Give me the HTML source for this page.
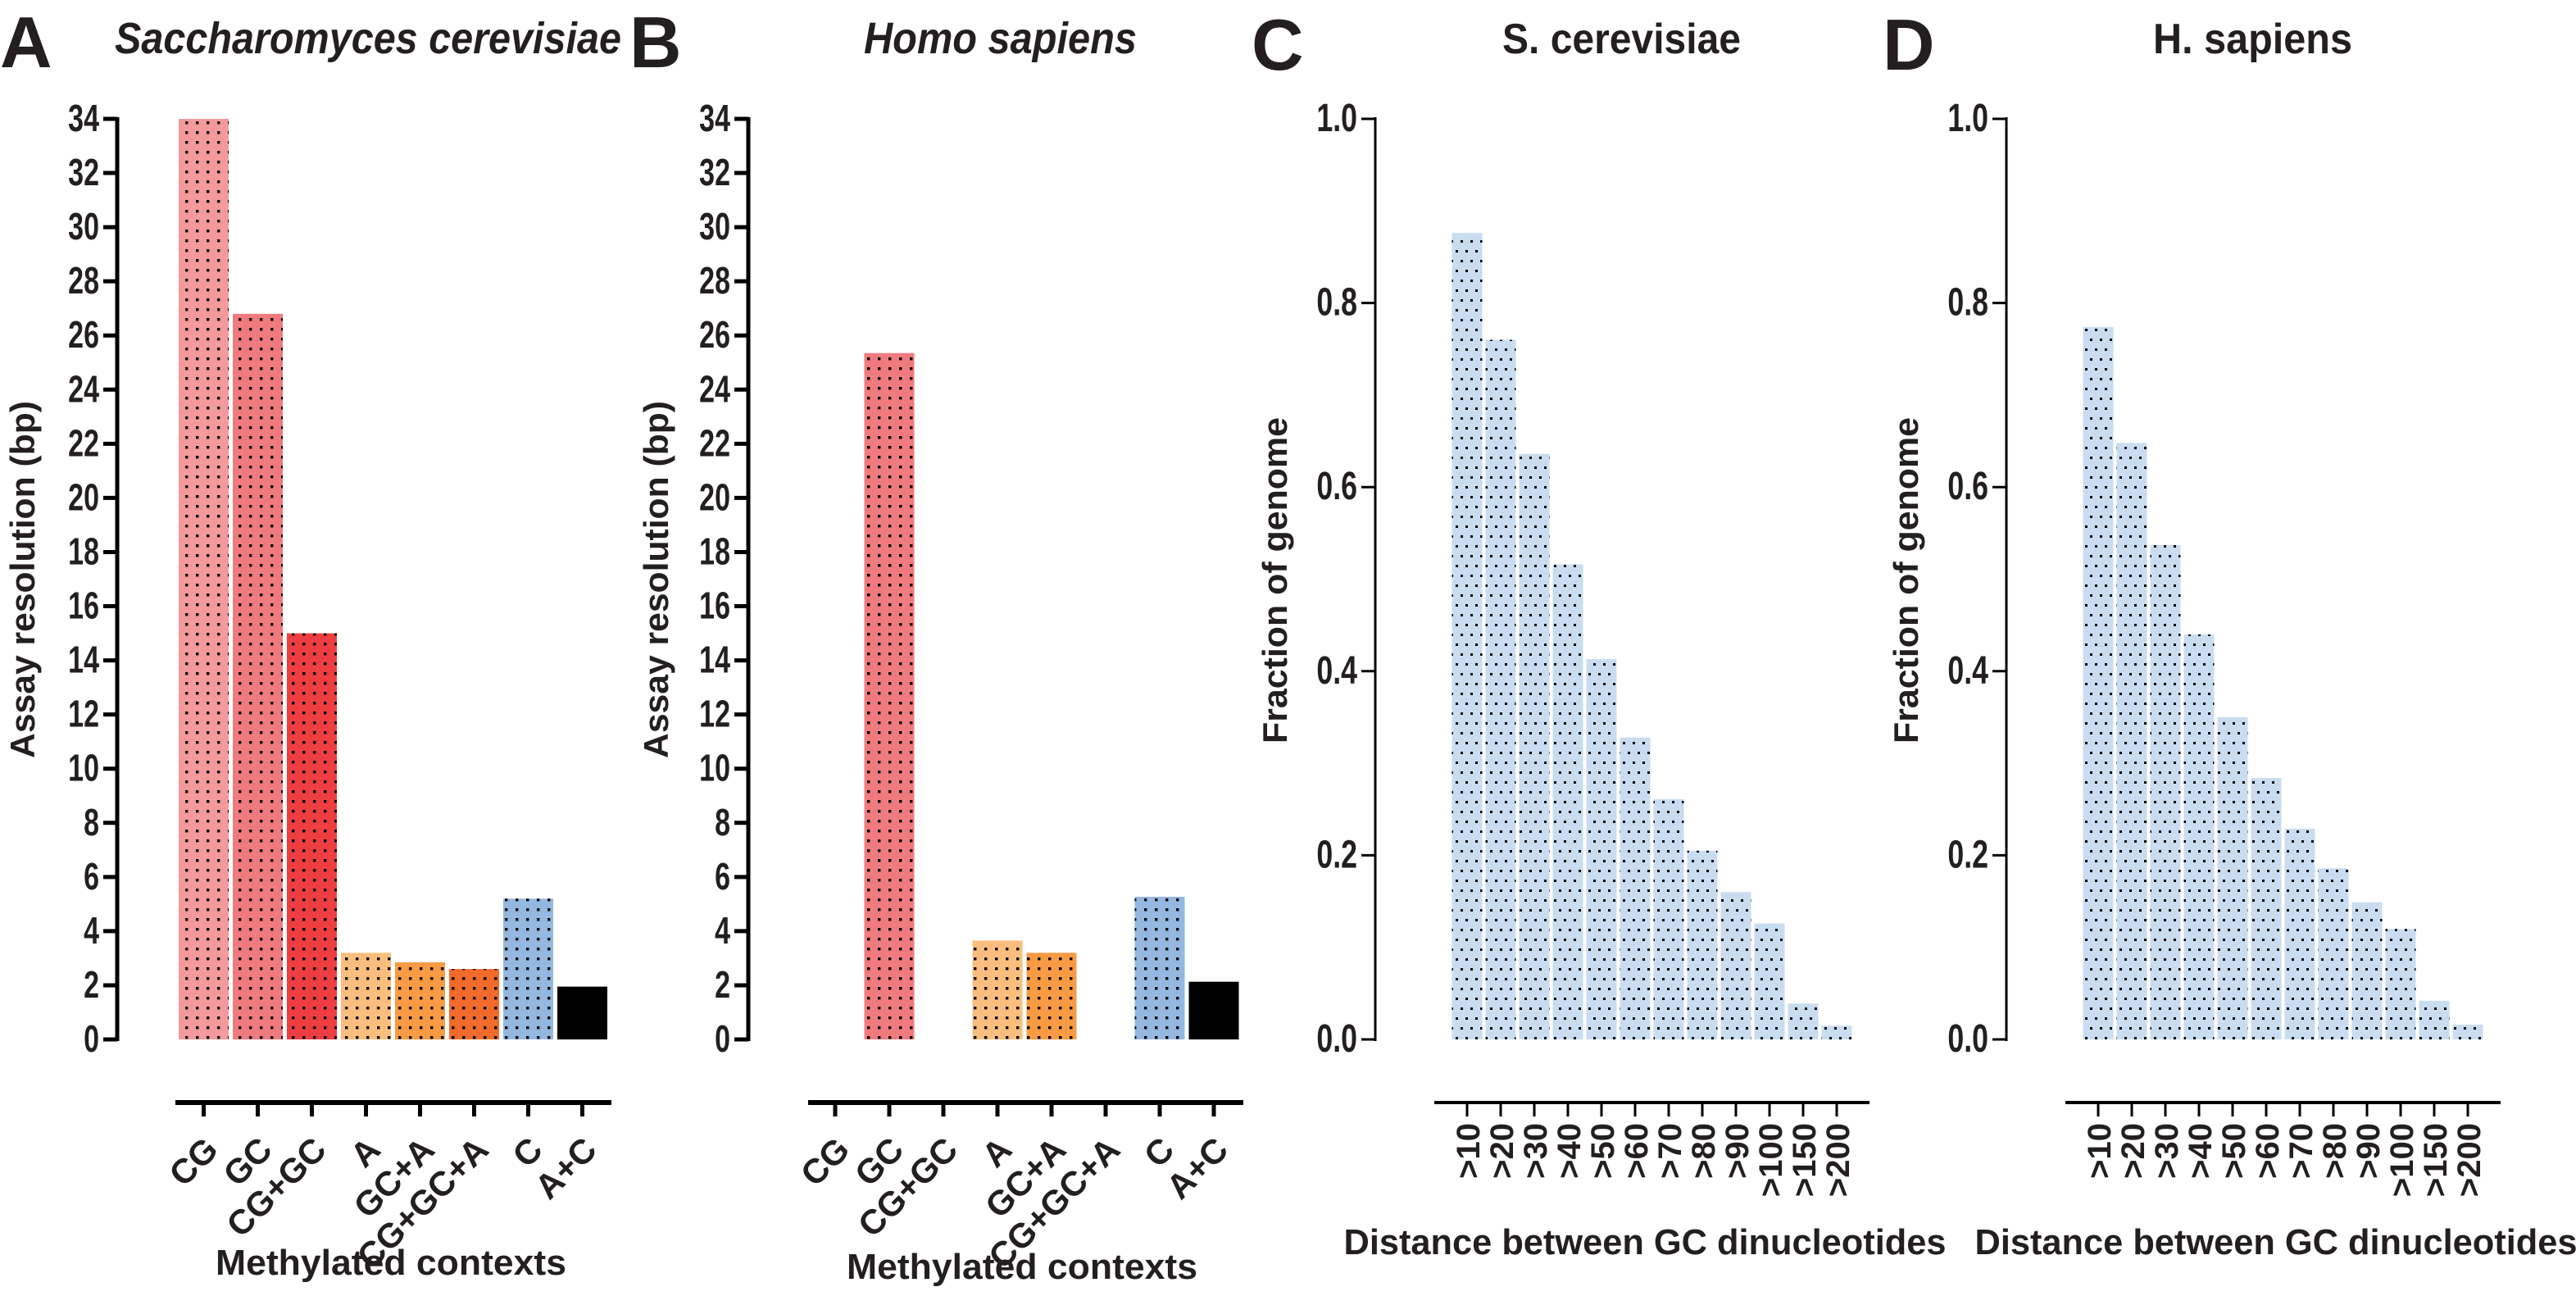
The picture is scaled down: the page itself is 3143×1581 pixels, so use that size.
<!DOCTYPE html>
<html><head><meta charset="utf-8"><title>Methylation resolution charts</title>
<style>
html,body{margin:0;padding:0;background:#fff;}
svg{display:block;font-family:"Liberation Sans",sans-serif;font-weight:bold;}
</style></head>
<body>
<svg id="fig" xmlns="http://www.w3.org/2000/svg" width="3143" height="1581" viewBox="0 0 3143 1581">
<defs>
<pattern id="dotsA" patternUnits="userSpaceOnUse" width="13" height="12" x="0" y="0"><rect x="5" y="4" width="3.4" height="3.4" fill="#000"/></pattern>
<pattern id="dotsC" patternUnits="userSpaceOnUse" width="12" height="24" x="0" y="0"><rect x="6" y="5" width="3" height="3" fill="#000"/><rect x="0" y="17" width="3" height="3" fill="#000"/></pattern>
</defs>
<g id="root"></g>
</svg>
<script>
// Panel A/B data
const contexts = ["CG","GC","CG+GC","A","GC+A","CG+GC+A","C","A+C"];
const contextColors = ["#f4999c","#f07b7f","#ee3e42","#fbbe7e","#f89b44","#f26a2c","#94b8e0","#000000"];
const yeastResolution = [34, 26.8, 15.0, 3.2, 2.85, 2.6, 5.2, 1.95];
const humanResolution = [null, 25.35, null, 3.65, 3.2, null, 5.27, 2.13];
const resolutionTicks = [0,2,4,6,8,10,12,14,16,18,20,22,24,26,28,30,32,34];
// Panel C/D data
const distances = [">10",">20",">30",">40",">50",">60",">70",">80",">90",">100",">150",">200"];
const yeastFraction = [0.876, 0.76, 0.636, 0.516, 0.413, 0.328, 0.261, 0.205, 0.16, 0.126, 0.039, 0.015];
const humanFraction = [0.774, 0.648, 0.537, 0.44, 0.35, 0.284, 0.229, 0.186, 0.149, 0.12, 0.042, 0.016];
const fractionTicks = [0, 0.2, 0.4, 0.6, 0.8, 1.0];
const fractionTickLabels = ["0.0","0.2","0.4","0.6","0.8","1.0"];

const NS = "http://www.w3.org/2000/svg";
const root = document.getElementById("root");
function mk(tag, attrs, parent, text){
  const e = document.createElementNS(NS, tag);
  for (const k in attrs) e.setAttribute(k, attrs[k]);
  if (text !== undefined) e.textContent = text;
  (parent || root).appendChild(e);
  return e;
}
const Y0 = 1268, Y1 = 145;

function panelText(x, y, size, str, name, extra){
  const t = mk("text", Object.assign({x:x, y:y, "font-size":size, fill:"#231f20"}, extra||{}), root, str);
  
  
  return t;
}

function barPanel(opt){
  const g = mk("g", {});
  
  
  const yScale = v => Y0 - (v - 0) / (opt.ymax - 0) * (Y0 - Y1);
  const ya = mk("line", {x1:opt.axisX, y1:Y1-2, x2:opt.axisX, y2:Y0+2, stroke:"#000", "stroke-width":opt.axisW}, g);
  
  
  opt.ticks.forEach((t, i) => {
    const y = yScale(t);
    const tl = mk("line", {x1:opt.axisX-17, y1:y, x2:opt.axisX, y2:y, stroke:"#000", "stroke-width":opt.axisW}, g);
    
    
    const tx = mk("text", {x:0, y:0, "text-anchor":"end", "font-size":opt.tickFont, fill:"#231f20",
      transform:"translate(" + (opt.axisX-22) + "," + (y+15) + ") scale(0.85,1.15)"}, g, opt.tickLabels ? opt.tickLabels[i] : String(t));
    
    
  });
  opt.values.forEach((v, i) => {
    const cx = opt.firstCenter + i * opt.step;
    if (v !== null && v !== undefined) {
      const y = yScale(v);
      const r = mk("rect", {x:cx - opt.barW/2, y:y, width:opt.barW, height:Y0 - y, fill:opt.colors[i]}, g);
      
      
      if (opt.colors[i] !== "#000000") {
        const p = mk("rect", {x:cx - opt.barW/2, y:y, width:opt.barW, height:Y0 - y, fill:opt.pattern}, g);
        
        
      }
    }
    const xt = mk("line", {x1:cx, y1:opt.xAxisY, x2:cx, y2:opt.xAxisY+17, stroke:"#000", "stroke-width":opt.axisW}, g);
    
    
    let lab;
    if (opt.rotate === -45) {
      lab = mk("text", {x:0, y:0, "text-anchor":"end", "font-size":opt.labFont, fill:"#231f20",
        transform:"translate(" + (cx + 20) + "," + (opt.xAxisY + 60) + ") rotate(-45)"}, g, opt.cats[i]);
    } else {
      lab = mk("text", {x:0, y:0, "text-anchor":"end", "font-size":opt.labFont, fill:"#231f20",
        transform:"translate(" + (cx + 15) + "," + (opt.xAxisY + 25) + ") rotate(-90)"}, g, opt.cats[i]);
    }
    
    
  });
  const xa = mk("line", {x1:opt.xAxisX1, y1:opt.xAxisY, x2:opt.xAxisX2, y2:opt.xAxisY, stroke:"#000", "stroke-width":opt.axisW+1}, g);
  
  
  const yt = mk("text", {x:0, y:0, "text-anchor":"middle", "font-size":opt.yTitleFont, fill:"#231f20",
    textLength:opt.yTitleLen, lengthAdjust:"spacingAndGlyphs",
    transform:"translate(" + opt.yTitleX + "," + opt.yTitleY + ") rotate(-90)"}, g, opt.yTitle);
  
  
  const xtt = mk("text", {x:opt.xTitleX, y:opt.xTitleY, "text-anchor":"middle", "font-size":opt.xTitleFont, fill:"#231f20",
    textLength:opt.xTitleLen, lengthAdjust:"spacingAndGlyphs"}, g, opt.xTitle);
  
  
}

const commonAB = {ymax:34, ticks:resolutionTicks, tickFont:40, axisW:5, step:66, barW:61, cats:contexts, colors:contextColors,
  pattern:"url(#dotsA)", xAxisY:1345, rotate:-45, labFont:42, yTitle:"Assay resolution (bp)", yTitleFont:42, yTitleLen:436,
  yTitleY:707, xTitle:"Methylated contexts", xTitleFont:44, xTitleLen:428};
barPanel(Object.assign({}, commonAB, {name:"panel-a-chart", axisX:143, values:yeastResolution, firstCenter:248.5,
  xAxisX1:214, xAxisX2:746, yTitleX:42, xTitleX:477, xTitleY:1555}));
barPanel(Object.assign({}, commonAB, {name:"panel-b-chart", axisX:913, values:humanResolution, firstCenter:1019,
  xAxisX1:986, xAxisX2:1517, yTitleX:815, xTitleX:1247, xTitleY:1560}));

const commonCD = {ymax:1.0, ticks:fractionTicks, tickLabels:fractionTickLabels, tickFont:42, axisW:3, step:41, barW:37,
  cats:distances, colors:distances.map(()=>"#c9dcf0"), pattern:"url(#dotsC)", xAxisY:1345, rotate:-90, labFont:40,
  yTitle:"Fraction of genome", yTitleFont:42, yTitleLen:398, yTitleY:708, xTitle:"Distance between GC dinucleotides",
  xTitleFont:44, xTitleLen:735};
barPanel(Object.assign({}, commonCD, {name:"panel-c-chart", axisX:1678, values:yeastFraction, firstCenter:1790,
  xAxisX1:1750, xAxisX2:2281, yTitleX:1570, xTitleX:2007, xTitleY:1530}));
barPanel(Object.assign({}, commonCD, {name:"panel-d-chart", axisX:2448, values:humanFraction, firstCenter:2560,
  xAxisX1:2520, xAxisX2:3051, yTitleX:2340, xTitleX:2777, xTitleY:1530}));

panelText(0, 82, 88, "A", "panel-letter-a");
panelText(768, 82, 88, "B", "panel-letter-b");
panelText(1527, 85, 88, "C", "panel-letter-c");
panelText(2297, 85, 88, "D", "panel-letter-d");
panelText(140, 65, 54, "Saccharomyces cerevisiae", "panel-a-title", {"font-style":"italic", textLength:618, lengthAdjust:"spacingAndGlyphs"});
panelText(1054, 65, 54, "Homo sapiens", "panel-b-title", {"font-style":"italic", textLength:333, lengthAdjust:"spacingAndGlyphs"});
panelText(1833, 65, 52, "S. cerevisiae", "panel-c-title", {textLength:291, lengthAdjust:"spacingAndGlyphs"});
panelText(2627, 65, 52, "H. sapiens", "panel-d-title", {textLength:243, lengthAdjust:"spacingAndGlyphs"});
</script>
</body></html>
